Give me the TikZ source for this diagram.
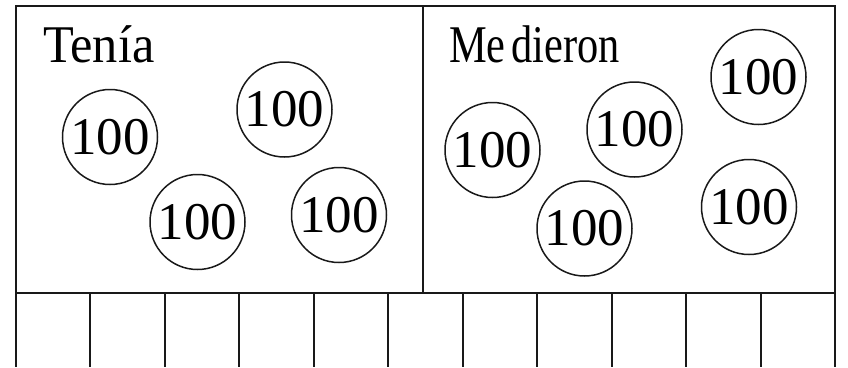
\documentclass[tikz,border=0pt]{standalone}
\usepackage{fontspec}
\setmainfont{Liberation Serif}
\begin{document}
\begin{tikzpicture}[x=1pt,y=-1pt,
  boxline/.style={line width=2pt,draw=black!90},
  coin/.style={circle,draw=black!90,line width=1.5pt,minimum size=95pt,inner sep=0pt,
    font=\fontsize{53}{53}\selectfont},
  lbl/.style={inner sep=0pt,anchor=base west,font=\fontsize{53}{53}\selectfont}]
\useasboundingbox (0,0) rectangle (848,367);
\draw[boxline] (16,6) rectangle (835,293);
\draw[boxline] (423,6) -- (423,293);
\foreach \i in {0,...,11}{
  \draw[boxline] ({16+\i*74.45},293) -- ({16+\i*74.45},367);
}
\node[lbl,xscale=0.95] (tenia) at (43,62) {Tenía};
\node[lbl,xscale=0.8] (medieron) at (449,62) {Me\hspace{0.13em}dieron};
\node[coin] (c1) at (110,137) {100};
\node[coin] (c2) at (284.5,109.5) {100};
\node[coin] (c3) at (197.5,222) {100};
\node[coin] (c4) at (339,215) {100};
\node[coin] (c5) at (492.5,150) {100};
\node[coin] (c6) at (634.5,129.5) {100};
\node[coin] (c7) at (758.5,77) {100};
\node[coin] (c8) at (584.5,228.5) {100};
\node[coin] (c9) at (749,207) {100};
\end{tikzpicture}
\end{document}
